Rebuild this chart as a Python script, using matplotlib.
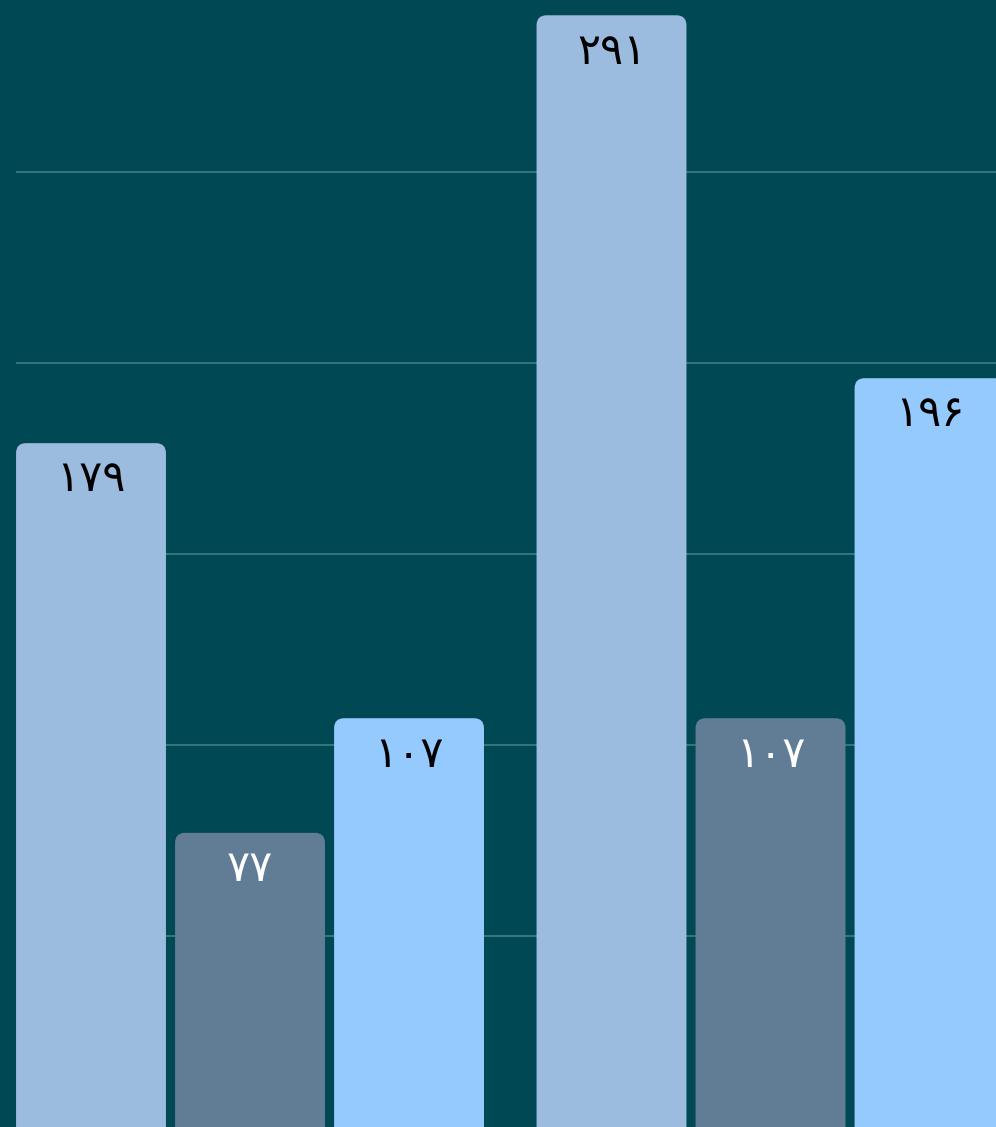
import numpy as np
import matplotlib.pyplot as plt
from matplotlib.patches import FancyBboxPatch

groups = [0, 1]
series_a = [179, 291]
series_b = [77, 107]
series_c = [107, 196]
labels_a = ["۱۷۹", "۲۹۱"]
labels_b = ["۷۷", "۱۰۷"]
labels_c = ["۱۰۷", "۱۹۶"]

colors = ["#9bbcde", "#607d95", "#94cafe"]
text_colors = ["black", "white", "black"]

bg = "#004853"
fig = plt.figure(figsize=(9.96, 11.27), dpi=100, facecolor=bg)
ax = fig.add_axes([16 / 996, 0, 980 / 996, 1])
ax.set_facecolor(bg)

width = 0.288
step = 0.3055
ax.set_xlim(-0.4496, 1.4332)
ax.set_ylim(0, 295)

# px per unit: x 520.5, y 3.82
aspect = 520.5 / 3.82
r = 10 / 520.5

x = np.array(groups, dtype=float)
for i, (vals, labs) in enumerate([(series_a, labels_a), (series_b, labels_b), (series_c, labels_c)]):
    xs = x + (i - 1) * step
    bars = ax.bar(xs, vals, width, color="none")
    for b, v, lab in zip(bars, vals, labs):
        p = FancyBboxPatch((b.get_x(), -10), b.get_width(), v + 10,
                           boxstyle=f"round,pad=0,rounding_size={r}",
                           mutation_aspect=aspect, fc=colors[i], ec="none",
                           zorder=3)
        p.set_clip_path(ax.patch)
        ax.add_patch(p)
        ax.annotate(lab, (b.get_x() + b.get_width() / 2, v), xytext=(0, -11),
                    textcoords="offset points", ha="center", va="top",
                    fontsize=31, color=text_colors[i], family="DejaVu Sans",
                    zorder=4)

ax.set_yticks([50, 100, 150, 200, 250])
ax.grid(axis="y", color="#3f7d84", linewidth=1.2, zorder=1)
ax.set_axisbelow(True)
ax.tick_params(left=False, bottom=False, labelleft=False, labelbottom=False)
for s in ax.spines.values():
    s.set_visible(False)

fig.savefig("out.png", dpi=100, facecolor=bg)
